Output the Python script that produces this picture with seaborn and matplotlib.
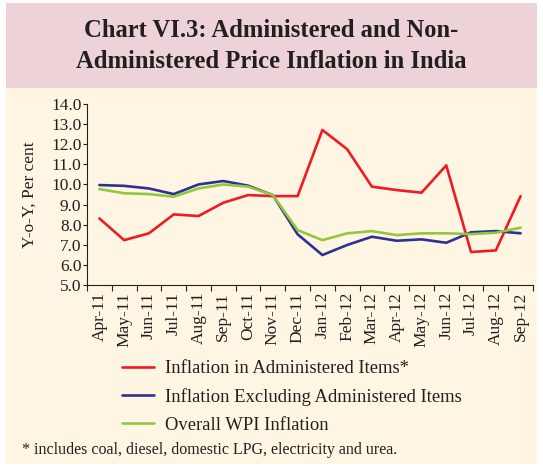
import pandas as pd
import seaborn as sns
import matplotlib.pyplot as plt
import numpy as np
from matplotlib.patches import Rectangle

# months on the x axis
months = ['Apr-11', 'May-11', 'Jun-11', 'Jul-11', 'Aug-11', 'Sep-11', 'Oct-11', 'Nov-11', 'Dec-11',
          'Jan-12', 'Feb-12', 'Mar-12', 'Apr-12', 'May-12', 'Jun-12', 'Jul-12', 'Aug-12', 'Sep-12']

# y-o-y inflation, per cent
administered = [8.31, 7.23, 7.57, 8.51, 8.43, 9.09, 9.47, 9.42, 9.42,
                12.71, 11.75, 9.89, 9.72, 9.59, 10.95, 6.64, 6.72, 9.42]
excl_administered = [9.97, 9.93, 9.80, 9.52, 10.00, 10.17, 9.94, 9.47, 7.52,
                     6.49, 6.99, 7.40, 7.20, 7.27, 7.10, 7.62, 7.68, 7.57]
overall_wpi = [9.77, 9.56, 9.52, 9.39, 9.80, 10.00, 9.89, 9.47, 7.73,
               7.23, 7.57, 7.68, 7.48, 7.57, 7.57, 7.53, 7.60, 7.85]

series_names = ['Inflation in Administered Items*',
                'Inflation Excluding Administered Items',
                'Overall WPI Inflation']
colours = ['#ED1C24', '#2E3192', '#93C83E']

# long table for seaborn
df = pd.DataFrame({
    'pos': list(range(len(months))) * 3,
    'value': administered + excl_administered + overall_wpi,
    'series': [s for s in series_names for _ in months],
})

sns.set_theme(style='ticks')
plt.rcParams['font.family'] = ['Liberation Serif', 'DejaVu Serif']

fig = plt.figure(figsize=(5.43, 4.70), dpi=100, facecolor='white')

# background panels: pink title band and cream chart panel
fig.patches.append(Rectangle((6 / 543, 1 - 88 / 470), 531 / 543, 85 / 470,
                             transform=fig.transFigure, facecolor='#EDD3D8',
                             edgecolor='none', zorder=-5))
fig.patches.append(Rectangle((6 / 543, 1 - 464 / 470), 531 / 543, 376 / 470,
                             transform=fig.transFigure, facecolor='#FEF6E2',
                             edgecolor='none', zorder=-5))

fig.text(0.5, 1 - 46 / 470, 'Chart VI.3: Administered and Non-\nAdministered Price Inflation in India',
         ha='center', va='center', fontsize=17.7, fontweight='bold', color='#231F20',
         linespacing=1.4)

ax = fig.add_axes([87 / 543, 1 - 285 / 470, 446 / 543, 181 / 470])
ax.set_facecolor('none')
ax.set_zorder(2)

sns.lineplot(data=df, x='pos', y='value', hue='series',
             palette=dict(zip(series_names, colours)), linewidth=1.9,
             legend=False, ax=ax)

ax.set_xlim(-0.5, len(months) - 0.5)
ax.set_ylim(5, 14)
ax.set_yticks(np.arange(5, 14.1, 1))
ax.set_yticklabels([f'{v:.1f}' for v in np.arange(5, 14.1, 1)])
ax.set_xticks(range(len(months)))
ax.set_xticklabels(months, rotation=90)
ax.set_xticks(np.arange(-0.5, len(months), 1), minor=True)
ax.tick_params(axis='x', which='major', length=0, pad=5, labelsize=12.5, colors='#231F20')
ax.tick_params(axis='x', which='minor', length=4, width=0.8, color='#231F20')
ax.tick_params(axis='y', length=3, width=0.8, pad=1, labelsize=12.5, colors='#231F20')
ax.set_xlabel('')
ax.set_ylabel('Y-o-Y, Per cent', fontsize=12.5, color='#231F20', labelpad=10)
for side in ['top', 'right']:
    ax.spines[side].set_visible(False)
for side in ['left', 'bottom']:
    ax.spines[side].set_color('#231F20')
    ax.spines[side].set_linewidth(0.8)

handles = [plt.Line2D([], [], color=c, linewidth=1.9) for c in colours]
fig.legend(handles, series_names, loc='upper left',
           bbox_to_anchor=(122 / 543, 1 - 360 / 470), frameon=False,
           fontsize=13.4, handlelength=1.72, handletextpad=0.58, labelspacing=0.58,
           borderpad=0, borderaxespad=0, labelcolor='#231F20')

fig.text(22 / 543, 1 - 450 / 470,
         '* includes coal, diesel, domestic LPG, electricity and urea.',
         ha='left', va='center', fontsize=11.5, color='#231F20')

fig.savefig('out.png', dpi=100, facecolor='white')
